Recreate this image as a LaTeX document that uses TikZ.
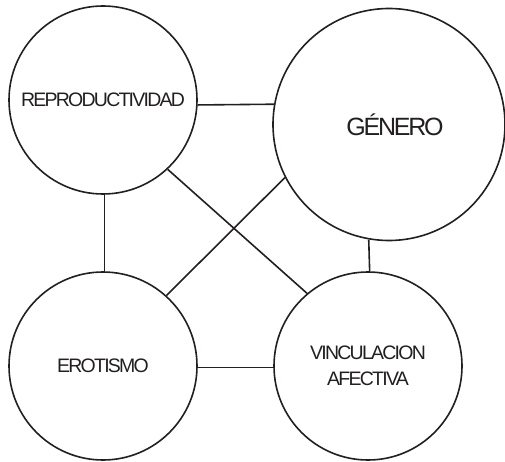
\documentclass[tikz,border=0pt]{standalone}
\usepackage{fontspec}
\setmainfont{Liberation Sans}
\newfontfamily\lblfont[LetterSpace=-9]{Liberation Sans}
\definecolor{ink}{HTML}{231F20}

\begin{document}
\begin{tikzpicture}[x=1pt, y=-1pt,
  area/.style={draw=ink, circle, line width=1.6pt, inner sep=0pt, align=center,
               text=ink, font=\lblfont\fontsize{19.5}{26}\selectfont},
  link/.style={draw=ink, line width=1.6pt}]
  \useasboundingbox (0,0) rectangle (505,462);
  \node[area, minimum size=188pt] (repro) at (103,100) {REPRODUCTIVIDAD};
  \node[area, minimum size=232pt] (gen) at (389,124.5) {};
  \node[text=ink, font=\lblfont\fontsize{25}{30}\selectfont, xshift=6pt] (gentxt) at (gen.center) {GÉNERO};
  \node[area, minimum size=188pt] (erot) at (103,366) {EROTISMO};
  \node[area, minimum size=188pt] (vinc) at (368,366) {VINCULACION\\AFECTIVA};
  \draw[link] (repro.-3) -- (gen.170);
  \draw[link] (repro.-89) -- (erot.89);
  \draw[link] (gen.-100) -- (vinc.89);
  \draw[link] (erot.-1) -- (vinc.181);
  \draw[link] (repro.-47) -- (vinc.130);
  \draw[link] (gen.207) -- (erot.48);
\end{tikzpicture}
\end{document}
